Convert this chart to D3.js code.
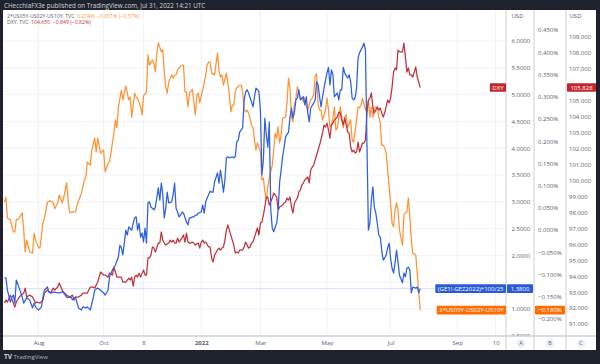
<!DOCTYPE html>
<html><head><meta charset="utf-8">
<script src="https://cdn.jsdelivr.net/npm/d3@7"></script>
<style>html,body{margin:0;padding:0;background:#1e222d;}svg{display:block;font-family:"Open Sans",sans-serif;}</style>
</head><body><svg id="c" width="600" height="364"></svg>
<script>
// ---- DATA ----
// x axis: trading-session index
const xTickBars = [24, 68, 95, 134, 174, 219, 262, 307, 333];
const xTickLabels = ["Aug", "Oct", "8", "2022", "Mar", "May", "Jul", "Sep", "10"];
const aTicks = [0.5, 1, 1.5, 2, 2.5, 3, 3.5, 4, 4.5, 5, 5.5, 6];
const bTicks = [-0.2, -0.15, -0.1, -0.05, 0, 0.05, 0.1, 0.15, 0.2, 0.25, 0.3, 0.35, 0.4, 0.45];
const cTicks = [91, 92, 93, 94, 95, 96, 97, 98, 99, 100, 101, 102, 103, 104, 105, 106, 107, 108, 109];

// (GE1!-GEZ2022)*100/25  (axis A)
const blueBars = [1,2,3,5,6,7,8,9,11,13,14,16,18,20,21,22,24,26,27,28,30,31,33,34,37,38,40,41,43,44,46,47,49,51,53,54,56,57,59,61,62,64,66,68,69,71,72,74,76,78,79,80,81,82,83,84,85,87,88,89,90,91,92,93,94,95,96,97,98,99,100,101,102,103,105,106,107,108,109,110,111,112,114,115,116,117,118,119,120,121,122,124,125,126,127,128,129,130,131,132,134,135,136,137,138,139,140,141,142,143,145,146,147,148,149,150,151,152,153,155,156,157,158,159,160,162,163,164,165,166,167,168,169,170,171,172,173,174,175,176,177,178,179,180,181,182,183,184,185,186,187,188,189,190,191,193,194,195,196,197,198,199,200,201,203,204,205,206,207,208,210,211,212,213,214,215,216,217,218,219,220,221,222,223,224,226,227,228,229,230,231,233,234,235,236,237,238,239,240,241,243,244,245,246,247,248,249,250,251,252,253,254,255,256,257,258,259,260,261,262,263,264,265,266,267,268,270,271,272,273,274,275,276,277,279,280,281,282];
const blueVals = [1.58,1.58,1.35,1.13,1.22,1.26,1.11,1.54,1.39,1.22,1.11,1.21,1.17,1.02,1.11,1.04,0.98,1.04,1.22,1.35,1.41,1.32,1.30,1.32,1.30,1.30,1.32,1.30,1.22,1.21,1.22,1.17,1.22,1.02,0.98,1.04,1.02,1.04,0.98,1.21,1.35,1.39,1.35,1.30,1.26,1.35,1.60,1.73,1.82,1.97,2.19,2.14,2.01,2.23,2.47,2.38,2.53,2.47,2.60,2.70,2.72,2.47,2.60,2.34,2.42,2.25,2.51,2.23,2.98,3.00,2.90,2.88,2.85,2.90,3.26,3.03,3.35,3.13,2.70,2.88,3.18,2.98,3.00,3.13,3.35,2.88,2.81,2.72,2.75,2.81,2.79,2.62,2.57,2.70,2.70,2.72,2.72,2.75,2.75,2.79,2.81,2.94,2.79,3.00,3.07,3.13,3.20,3.18,3.18,3.37,3.54,3.35,3.59,3.41,3.18,3.41,3.82,3.84,3.82,3.84,3.82,3.84,4.12,4.15,4.30,4.38,4.90,5.05,5.09,5.03,4.94,4.86,4.77,4.96,5.12,5.09,5.05,4.71,3.50,3.78,4.56,4.25,4.02,4.49,2.85,2.51,2.44,2.53,2.60,2.85,3.37,3.59,3.84,4.02,4.21,4.30,4.58,4.75,4.56,4.68,4.90,4.94,5.09,4.90,4.96,4.81,4.96,4.66,4.49,4.75,4.84,4.90,5.24,5.18,4.96,4.77,4.96,5.12,5.27,5.40,5.51,5.18,5.46,5.37,4.96,5.03,4.90,5.09,5.09,5.51,5.40,5.31,5.37,5.24,4.94,4.90,4.94,5.12,5.68,5.78,5.89,5.96,5.83,4.10,2.47,2.60,3.03,3.28,2.90,2.79,2.60,2.38,2.34,2.10,1.91,1.95,2.01,2.14,2.23,1.95,1.76,1.67,1.86,2.10,1.88,1.63,1.49,1.67,1.60,1.76,1.78,1.73,1.30,1.41,1.39,1.41,1.30,1.38];

// 2*US05Y-US02Y-US10Y, % (axis B)
const orangeBars = [1,2,3,5,7,8,9,11,13,14,15,16,18,20,21,22,24,25,27,28,30,32,34,35,37,38,40,41,43,44,45,47,49,50,52,53,55,56,57,59,60,62,63,64,66,68,69,71,72,74,75,76,77,78,80,81,83,85,86,87,89,90,91,93,94,95,97,98,99,101,102,103,104,105,107,108,109,110,111,112,114,115,116,117,118,120,122,123,124,125,126,127,128,130,131,132,133,134,135,137,138,139,140,141,143,145,146,147,148,149,151,152,153,154,155,156,157,158,160,161,162,163,164,165,166,168,169,170,171,172,174,175,176,177,178,179,180,182,183,184,185,186,187,188,189,191,192,193,194,195,196,197,198,199,201,202,203,204,205,206,208,209,210,211,212,213,214,215,216,218,219,220,221,222,223,224,225,226,228,229,230,231,232,233,235,236,237,238,239,240,241,242,243,245,246,247,248,249,250,251,253,254,255,256,257,258,259,260,262,263,264,265,266,267,268,270,271,272,273,274,275,276,277,279,280,281,282];
const orangeVals = [0.063,0.074,0.027,0.023,-0.004,-0.004,0.023,0.027,0.039,0.000,-0.049,-0.022,-0.049,-0.052,-0.007,-0.022,-0.040,-0.040,0.016,0.027,0.063,0.066,0.061,0.048,0.061,0.079,0.061,0.072,0.106,0.068,0.039,0.041,0.041,0.056,0.074,0.083,0.113,0.119,0.153,0.146,0.180,0.207,0.176,0.207,0.173,0.180,0.131,0.151,0.153,0.196,0.218,0.248,0.230,0.277,0.315,0.293,0.324,0.293,0.299,0.254,0.308,0.299,0.297,0.277,0.259,0.302,0.311,0.394,0.371,0.383,0.376,0.356,0.398,0.421,0.401,0.405,0.356,0.322,0.308,0.333,0.349,0.342,0.349,0.349,0.360,0.369,0.371,0.311,0.311,0.277,0.308,0.311,0.317,0.259,0.304,0.308,0.286,0.302,0.315,0.349,0.371,0.378,0.378,0.353,0.349,0.398,0.360,0.344,0.349,0.326,0.353,0.331,0.304,0.266,0.281,0.281,0.311,0.320,0.326,0.326,0.311,0.270,0.266,0.270,0.263,0.236,0.230,0.203,0.180,0.196,0.176,0.113,0.117,0.086,0.068,0.097,0.117,0.146,0.180,0.218,0.207,0.232,0.196,0.214,0.252,0.254,0.288,0.342,0.320,0.254,0.243,0.281,0.297,0.322,0.297,0.297,0.288,0.297,0.277,0.270,0.293,0.297,0.304,0.347,0.351,0.281,0.270,0.270,0.248,0.270,0.297,0.270,0.232,0.236,0.252,0.277,0.225,0.230,0.277,0.254,0.230,0.254,0.259,0.230,0.248,0.203,0.198,0.221,0.248,0.277,0.275,0.281,0.297,0.270,0.277,0.293,0.254,0.277,0.254,0.275,0.277,0.254,0.241,0.191,0.191,0.185,0.173,0.135,0.061,0.016,0.007,0.045,0.061,0.045,0.000,-0.034,0.034,0.039,0.041,0.072,0.030,-0.022,-0.052,-0.056,-0.097,-0.139,-0.180];

// DXY (axis C)
const redBars = [1,2,3,5,7,8,9,11,14,15,16,18,20,22,23,25,27,28,30,32,34,35,37,38,40,41,43,45,47,48,49,51,53,54,56,57,59,61,62,64,66,68,69,71,72,74,75,76,77,78,80,81,83,85,86,87,88,89,90,91,92,93,95,96,97,98,99,100,101,102,103,105,106,107,108,109,110,112,113,114,115,116,117,118,119,120,122,123,124,125,126,127,128,129,130,132,133,134,135,136,137,139,140,141,142,143,145,146,147,148,149,150,151,152,153,155,156,157,158,159,160,162,163,164,165,166,167,168,169,170,172,173,174,175,176,177,178,179,180,182,183,184,185,186,187,189,190,191,192,193,194,195,196,197,199,200,201,202,203,204,206,207,208,209,210,211,212,213,214,216,217,218,219,220,221,222,223,224,226,227,228,229,230,231,233,234,235,236,237,238,239,240,241,243,244,245,246,247,248,249,250,251,253,254,255,256,257,258,260,261,262,263,264,265,266,267,268,270,271,272,273,274,275,276,277,279,280,281,282];
const redVals = [92.31,92.50,92.38,92.81,92.31,92.06,92.38,92.69,92.94,93.25,92.69,92.81,92.69,92.31,92.38,92.31,92.50,92.94,93.13,92.94,93.25,93.13,93.32,93.57,93.13,93.00,92.81,92.69,92.81,92.50,92.69,92.69,92.81,92.94,92.94,92.94,93.32,93.32,93.25,93.63,94.26,94.07,94.07,93.94,94.19,94.07,94.57,94.26,93.94,93.94,93.94,93.63,93.63,93.88,93.76,93.94,93.38,93.94,94.07,93.94,94.19,93.94,94.38,94.07,94.07,95.14,95.14,95.32,95.83,95.76,95.51,96.08,96.08,96.77,96.26,96.08,95.95,96.08,96.26,96.14,96.26,96.08,96.08,96.39,96.14,96.26,96.58,96.14,96.70,96.14,96.08,96.08,96.14,96.08,95.95,96.08,95.76,96.14,96.26,96.08,96.14,95.83,95.83,95.14,94.88,95.32,95.64,95.76,95.64,95.76,95.83,96.26,96.89,97.21,96.89,96.26,95.95,95.45,95.51,95.45,95.64,95.64,95.83,96.14,95.95,95.76,95.83,96.08,96.14,96.45,97.02,96.58,97.33,97.39,97.83,98.34,98.96,98.96,98.46,98.90,99.21,99.09,98.96,98.15,98.34,98.46,98.59,98.65,98.90,98.77,98.96,98.34,97.96,98.59,98.90,99.28,99.40,99.72,99.84,100.03,100.22,99.84,100.66,100.84,100.97,101.28,101.60,101.91,102.22,102.98,103.48,103.35,103.60,103.17,102.66,103.48,103.60,103.79,103.98,104.29,104.23,103.79,103.48,103.92,103.04,102.98,102.10,101.79,101.91,101.72,101.79,102.41,101.79,102.35,102.35,102.54,104.23,105.05,105.17,105.49,104.61,104.23,104.61,104.42,104.55,104.23,103.98,104.23,105.05,104.86,105.17,105.86,106.80,107.06,106.93,108.18,108.06,108.06,108.62,107.75,106.80,107.06,106.62,106.62,106.49,107.12,106.49,106.18,105.83];

const lastBlue = "1.3800", lastOrange = "−0.180%", lastRed = "105.828";

// ---- DRAW ----
const svg = d3.select("#c");
const W = 600, H = 364;
const plot = {l: 3, r: 506, t: 10, b: 336};
const dark = "#1e222d", gridC = "#f0f3fa", sepC = "#cdd0d6", txtC = "#5d606b";
const cBlue = "#2d5fe0", cOrange = "#ff9333", cRed = "#c0323c";
const bxBlue = "#2a5bd7", bxOrange = "#ff6d00", bxRed = "#c4252d";

const x = d3.scaleLinear().domain([0, 340]).range([plot.l, plot.r]);
const yA = d3.scaleLinear().domain([1, 6]).range([309, 41]);
const yB = d3.scaleLinear().domain([-0.2, 0.45]).range([319, 30]);
const yC = d3.scaleLinear().domain([91, 109]).range([324, 37]);

const yBlueLast = yA(blueVals[blueVals.length - 1]);
const yOrangeLast = yB(orangeVals[orangeVals.length - 1]);
const yRedLast = yC(redVals[redVals.length - 1]);

svg.append("rect").attr("width", W).attr("height", H).attr("fill", dark);
svg.append("rect").attr("x", 3).attr("y", 10).attr("width", 593).attr("height", 340).attr("fill", "#ffffff");

// header
svg.append("text").attr("x", 4).attr("y", 7.5).attr("fill", "#d1d4dc").attr("font-size", 6.3)
  .text("CHecchiaFX3e published on TradingView.com, Jul 31, 2022 14:21 UTC");

// grid
const grid = svg.append("g");
grid.selectAll("line.h").data(aTicks.filter(d => d >= 1)).join("line")
  .attr("x1", plot.l).attr("x2", plot.r).attr("y1", d => yA(d)).attr("y2", d => yA(d))
  .attr("stroke", gridC).attr("stroke-width", 1);
grid.selectAll("line.v").data(xTickBars).join("line")
  .attr("y1", plot.t).attr("y2", plot.b).attr("x1", d => x(d)).attr("x2", d => x(d))
  .attr("stroke", gridC).attr("stroke-width", 1);

// price line for blue series
svg.append("line").attr("x1", plot.l).attr("x2", plot.r)
  .attr("y1", yBlueLast).attr("y2", yBlueLast)
  .attr("stroke", "#dde5f8").attr("stroke-width", 1.2);

svg.append("clipPath").attr("id", "pc").append("rect")
  .attr("x", plot.l).attr("y", plot.t).attr("width", plot.r - plot.l).attr("height", plot.b - plot.t);
const lines = svg.append("g").attr("clip-path", "url(#pc)");
function drawLine(bars, vals, ys, col) {
  const pts = bars.map((b, i) => [b, vals[i]]);
  lines.append("path").datum(pts)
    .attr("d", d3.line().x(d => x(d[0])).y(d => ys(d[1])))
    .attr("fill", "none").attr("stroke", col).attr("stroke-width", 1.25).attr("stroke-linejoin", "round");
}
drawLine(orangeBars, orangeVals, yB, cOrange);
drawLine(redBars, redVals, yC, cRed);
drawLine(blueBars, blueVals, yA, cBlue);

// legend text (flowing tspans)
const leg = svg.append("g").attr("font-size", 5.2);
const l1 = leg.append("text").attr("x", 7).attr("y", 17.8);
l1.append("tspan").attr("fill", txtC).text("2*US05Y-US02Y-US10Y, TVC");
l1.append("tspan").attr("dx", 2.5).attr("fill", cOrange).text("0.274%");
l1.append("tspan").attr("dx", 2.5).attr("fill", cOrange).text("−0.001% (−0.37%)");
const l2 = leg.append("text").attr("x", 7).attr("y", 24.3);
l2.append("tspan").attr("fill", txtC).text("DXY, TVC");
l2.append("tspan").attr("dx", 2.5).attr("fill", cRed).text("104.650");
l2.append("tspan").attr("dx", 2.5).attr("fill", cRed).text("−0.849 (−0.82%)");

// x axis
const xAxisG = svg.append("g").attr("transform", `translate(0,${plot.b})`);
xAxisG.append("rect").attr("x", 3).attr("y", 0).attr("width", 593).attr("height", 14).attr("fill", "#fff");
const xAx = d3.axisBottom(x).tickValues(xTickBars).tickFormat((d, i) => xTickLabels[i]).tickSize(0).tickPadding(0);
xAxisG.call(xAx);
xAxisG.select(".domain").remove();
xAxisG.selectAll("text").attr("y", 9.2).attr("dy", 0).attr("font-size", 6).attr("fill", txtC)
  .attr("font-family", "Open Sans")
  .attr("font-weight", (d, i) => xTickLabels[i] === "2022" ? "bold" : "normal");

// right axes (ticks under a last-value tag are hidden, as in the reference)
function rightAxis(x0, scale, ticks, fmt, dx, tagY) {
  const shown = ticks.filter(t => Math.abs(scale(t) - tagY) > 7.5);
  const g = svg.append("g").attr("transform", `translate(${x0},0)`);
  g.call(d3.axisRight(scale).tickValues(shown).tickFormat(fmt).tickSize(0).tickPadding(dx));
  g.select(".domain").remove();
  g.selectAll("text").attr("font-size", 6).attr("fill", txtC).attr("font-family", "Open Sans");
  return g;
}
rightAxis(506, yA, aTicks, d => d3.format(".4f")(d), 5.5, yBlueLast);
rightAxis(534, yB, bTicks, d => (d < 0 ? "−" : "") + d3.format(".3f")(Math.abs(d)) + "%", 4, yOrangeLast);
rightAxis(566, yC, cTicks, d => d3.format(".3f")(d), 3, yRedLast);

// cover x axis row over the axes
svg.append("rect").attr("x", 506).attr("y", plot.b).attr("width", 90).attr("height", 14).attr("fill", "#fff");
svg.append("rect").attr("x", 506).attr("y", 10).attr("width", 90).attr("height", 10).attr("fill", "#fff");

// USD headers
svg.append("text").attr("x", 511.5).attr("y", 18).attr("font-size", 6).attr("fill", txtC).text("USD");
svg.append("text").attr("x", 569.5).attr("y", 18).attr("font-size", 6).attr("fill", txtC).text("USD");

// separators
svg.append("line").attr("x1", 3).attr("x2", 596).attr("y1", plot.b).attr("y2", plot.b).attr("stroke", sepC).attr("stroke-width", 1.6);
[506, 534, 566].forEach(v => svg.append("line").attr("x1", v).attr("x2", v).attr("y1", 10).attr("y2", 350)
  .attr("stroke", sepC).attr("stroke-width", 1));

// A/B/C circles
const abc = [["A", 521], ["B", 550], ["C", 581]];
abc.forEach(([t, cx]) => {
  svg.append("circle").attr("cx", cx).attr("cy", 343.3).attr("r", 4.4).attr("fill", "#eef0f4");
  svg.append("text").attr("x", cx).attr("y", 345.4).attr("text-anchor", "middle").attr("font-size", 5.5).attr("fill", txtC).text(t);
});

// last value labels
function tag(xr, yc, text, bg, anchorRight, xl) {
  const g = svg.append("g");
  const t = g.append("text").attr("font-size", 6).attr("fill", "#fff").attr("y", yc + 2.1).text(text);
  const w = t.node().getComputedTextLength();
  const x0 = anchorRight ? xr - w - 5 : xl;
  const bw = xr - x0;
  g.insert("rect", "text").attr("x", x0).attr("y", yc - 4.3).attr("width", bw).attr("height", 8.6).attr("fill", bg).attr("rx", 0.8);
  t.attr("x", x0 + (anchorRight ? 2.5 : (bw - w) / 2));
}
tag(506, yRedLast, "DXY", bxRed, true);
tag(506, yBlueLast, "(GE1!-GEZ2022)*100/25", bxBlue, true);
tag(506, yOrangeLast, "2*US05Y-US02Y-US10Y", bxOrange, true);
tag(533, yBlueLast, lastBlue, bxBlue, false, 507);
tag(565, yOrangeLast, lastOrange, bxOrange, false, 535);
tag(596, yRedLast, lastRed, bxRed, false, 567);

// footer
svg.append("text").attr("x", 4).attr("y", 359).attr("font-size", 6.5).attr("font-weight", "bold").attr("fill", "#d1d4dc").text("TV");
svg.append("text").attr("x", 13.5).attr("y", 359).attr("font-size", 6).attr("fill", "#b2b5be").text("TradingView");
</script></body></html>
